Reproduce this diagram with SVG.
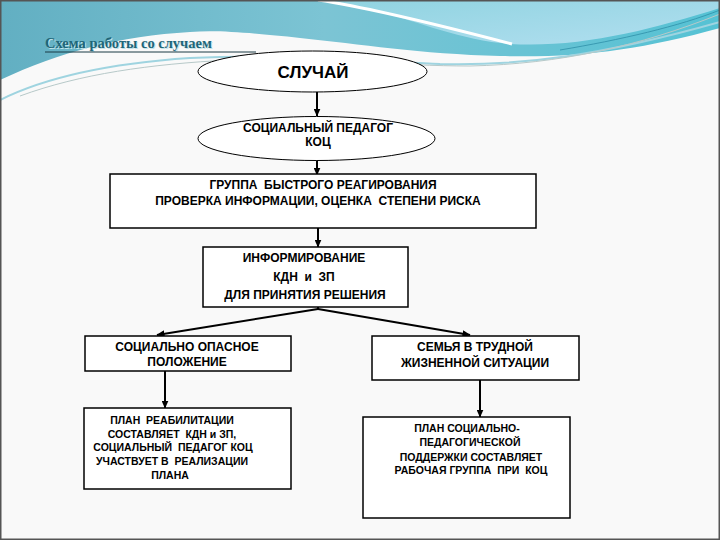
<svg xmlns="http://www.w3.org/2000/svg" width="720" height="540" viewBox="0 0 720 540">
<defs>
<linearGradient id="gTeal" x1="0" y1="0" x2="1" y2="0">
<stop offset="0" stop-color="#62afc2"/>
<stop offset="0.45" stop-color="#7cc4d4"/>
<stop offset="1" stop-color="#55c2d4"/>
</linearGradient>
<linearGradient id="gLight" x1="0" y1="0" x2="1" y2="1">
<stop offset="0" stop-color="#8fd3e0"/>
<stop offset="1" stop-color="#b2dff0"/>
</linearGradient>
<marker id="arr" markerUnits="userSpaceOnUse" markerWidth="8" markerHeight="7" refX="7.5" refY="3.5" orient="auto">
<path d="M0,0 L8,3.5 L0,7 Z" fill="#000"/>
</marker>
<style>
.box{fill:#fff;stroke:#000;stroke-width:1.5}
.ell{fill:#fff;stroke:#000;stroke-width:1}
.t{font-family:"Liberation Sans",Arial,sans-serif;font-size:12px;font-weight:bold;fill:#000;text-anchor:middle;white-space:pre}
.s{font-size:10.5px}
.con{stroke:#000;stroke-width:2;fill:none;marker-end:url(#arr)}
</style>
</defs>
<rect x="0" y="0" width="720" height="540" fill="#f9f9f9"/>
<g id="banner">
<path d="M0,0 H720 V28 C640,50 580,58 500,56 C420,54 360,44 300,38 C250,33 220,30 190,32 C120,36 60,52 0,80 Z" fill="url(#gTeal)"/>
<path d="M318,0 H720 V8 C650,30 580,48 510,44 C460,40 420,22 380,12 C350,6 330,2 318,0 Z" fill="url(#gLight)"/>
<path d="M318,0 C360,6 420,20 512,44" stroke="#ffffff" stroke-width="3" fill="none"/>
<path d="M0,100 C40,80 100,64 190,58 C280,54 360,60 440,64 C520,66 600,56 720,22" stroke="#9fd4e0" stroke-width="2" fill="none"/>
<path d="M20,96 C80,74 150,64 230,60 C320,58 400,66 470,66 C560,64 640,46 720,14" stroke="#b7c9c9" stroke-width="1" fill="none"/>
<path d="M560,50 C620,40 680,26 720,10" stroke="#2f8fa8" stroke-width="0.8" fill="none"/>
</g>
<g id="title">
<text x="46" y="49" font-family="'Liberation Serif','Times New Roman',serif" font-size="14.5" font-weight="bold" fill="#bfe3ea">Схема работы со случаем</text>
<text x="45" y="48" font-family="'Liberation Serif','Times New Roman',serif" font-size="14.5" font-weight="bold" fill="#1f6678">Схема работы со случаем</text>
<line x1="45" y1="52" x2="256" y2="52" stroke="#1a3a44" stroke-width="1"/>
</g>
<g id="connectors">
<line class="con" x1="317" y1="92" x2="317" y2="116"/>
<line class="con" x1="317" y1="160" x2="317" y2="175"/>
<line class="con" x1="318" y1="228" x2="318" y2="247"/>
<line x1="318" y1="307" x2="318" y2="309" stroke="#000" stroke-width="2"/>
<line class="con" x1="318" y1="309" x2="157" y2="335"/>
<line class="con" x1="318" y1="309" x2="470" y2="335"/>
<line class="con" x1="165" y1="371" x2="165" y2="408"/>
<line class="con" x1="480" y1="380" x2="480" y2="417"/>
</g>
<g id="n1">
<ellipse class="ell" cx="312.5" cy="71.5" rx="114.5" ry="20.5"/>
<text x="313" y="78" font-family="'Liberation Sans',Arial,sans-serif" font-size="17" font-weight="bold" text-anchor="middle">СЛУЧАЙ</text>
</g>
<g id="n2">
<ellipse class="ell" cx="316.5" cy="138.5" rx="118.5" ry="22"/>
<text class="t" x="318" y="132">СОЦИАЛЬНЫЙ ПЕДАГОГ</text>
<text class="t" x="318" y="146">КОЦ</text>
</g>
<g id="n3">
<rect class="box" x="110" y="174" width="426" height="54"/>
<text class="t" x="323" y="189">ГРУППА  БЫСТРОГО РЕАГИРОВАНИЯ</text>
<text class="t" x="318" y="205">ПРОВЕРКА ИНФОРМАЦИИ, ОЦЕНКА  СТЕПЕНИ РИСКА</text>
</g>
<g id="n4">
<rect class="box" x="203" y="247" width="205" height="60"/>
<text class="t" x="304" y="262">ИНФОРМИРОВАНИЕ</text>
<text class="t" x="304" y="281">КДН  и  ЗП</text>
<text class="t" x="305" y="299">ДЛЯ ПРИНЯТИЯ РЕШЕНИЯ</text>
</g>
<g id="n5">
<rect class="box" x="85" y="336" width="206" height="35"/>
<text class="t" x="187" y="351">СОЦИАЛЬНО ОПАСНОЕ</text>
<text class="t" x="187" y="366">ПОЛОЖЕНИЕ</text>
</g>
<g id="n6">
<rect class="box" x="372" y="336" width="207" height="44"/>
<text class="t" x="475" y="351">СЕМЬЯ В ТРУДНОЙ</text>
<text class="t" x="475" y="367">ЖИЗНЕННОЙ СИТУАЦИИ</text>
</g>
<g id="n7">
<rect class="box" x="84" y="408" width="207" height="81"/>
<text class="t s" x="172" y="424">ПЛАН  РЕАБИЛИТАЦИИ</text>
<text class="t s" x="172" y="438">СОСТАВЛЯЕТ  КДН и ЗП,</text>
<text class="t s" x="173" y="451">СОЦИАЛЬНЫЙ  ПЕДАГОГ КОЦ</text>
<text class="t s" x="172" y="465">УЧАСТВУЕТ В  РЕАЛИЗАЦИИ</text>
<text class="t s" x="170" y="479">ПЛАНА</text>
</g>
<g id="n8">
<rect class="box" x="363" y="417" width="207" height="101"/>
<text class="t s" x="467" y="432">ПЛАН СОЦИАЛЬНО-</text>
<text class="t s" x="470" y="446">ПЕДАГОГИЧЕСКОЙ</text>
<text class="t s" x="471" y="461">ПОДДЕРЖКИ СОСТАВЛЯЕТ</text>
<text class="t s" x="471" y="474">РАБОЧАЯ ГРУППА  ПРИ  КОЦ</text>
</g>
<rect x="0.75" y="0.75" width="718.5" height="538.5" fill="none" stroke="#555" stroke-width="1.5"/>
</svg>
